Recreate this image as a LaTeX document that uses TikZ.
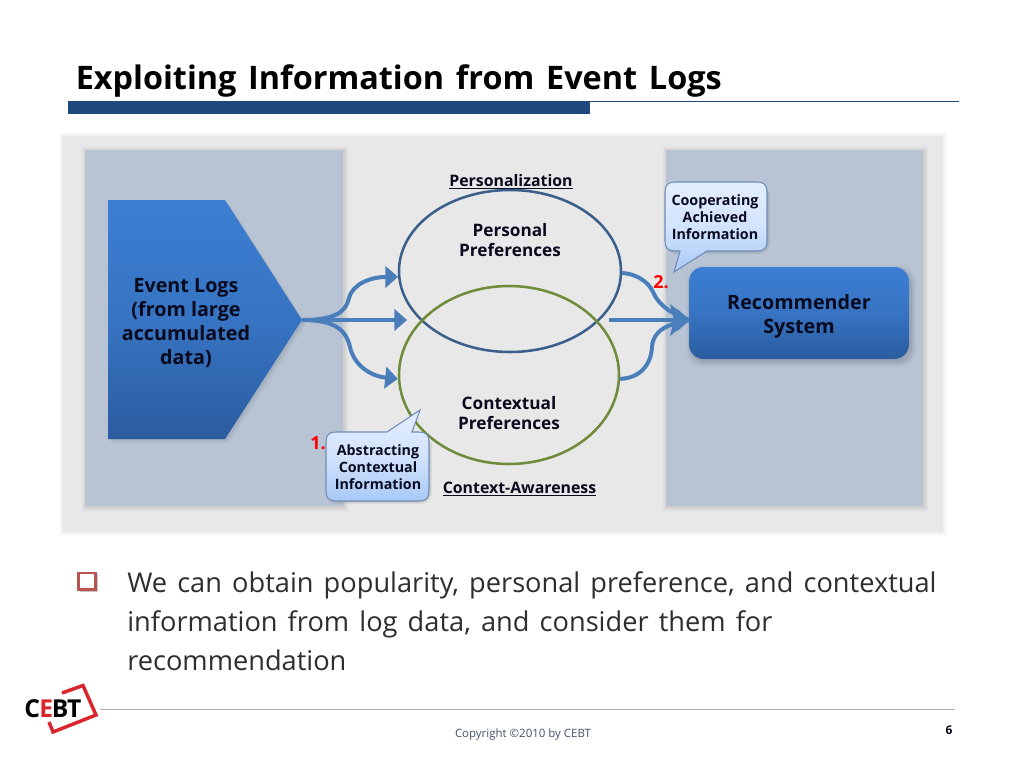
\documentclass[tikz,border=0pt]{standalone}
\usepackage{fontspec}
\setmainfont{Open Sans}
\usetikzlibrary{shapes.geometric,arrows.meta}
\definecolor{navy}{HTML}{1F497D}
\definecolor{panel}{HTML}{E8E8E8}
\definecolor{col}{HTML}{B8C4D4}
\definecolor{flow}{HTML}{4A7EBB}
\definecolor{blueT}{HTML}{3C7ED2}
\definecolor{blueB}{HTML}{2B5C9F}
\definecolor{ink}{HTML}{0A0A1E}
\definecolor{ringB}{HTML}{3A5F8A}
\definecolor{ringG}{HTML}{6F8C3C}
\definecolor{cTop}{HTML}{E4EEFF}
\definecolor{cBot}{HTML}{A9C9F7}
\definecolor{cEdge}{HTML}{6F8DB5}
\definecolor{foot}{HTML}{44546A}
\definecolor{logoR}{HTML}{D8262C}
\definecolor{bul}{HTML}{B9534F}
\newcommand{\titlefont}{\bfseries\fontsize{24.3pt}{28pt}\selectfont\spaceskip=8.8pt\relax}
\newcommand{\bodyfont}{\fontsize{20.4pt}{29.25pt}\selectfont\spaceskip=7.6pt\relax}
\tikzset{
  x=0.75pt,y=-0.75pt,
  flowline/.style={draw=flow,line width=3pt,-{Triangle[length=9.5pt,width=16pt]}},
  flowplain/.style={draw=flow,line width=3pt},
  ring/.style={ellipse,draw,line width=1.9pt,inner sep=0pt},
  lbl/.style={font=\bfseries\fontsize{12.9pt}{15pt}\selectfont,text=ink,align=center,inner sep=0pt},
  lblwide/.style={font=\bfseries\fontsize{14.8pt}{18pt}\selectfont,text=ink,align=center,inner sep=0pt},
  clbl/.style={font=\bfseries\fontsize{10.7pt}{12.9pt}\selectfont,text=ink,align=center,inner sep=0pt},
  ulbl/.style={font=\bfseries\fontsize{11.9pt}{13pt}\selectfont,text=ink,inner sep=0pt},
  num/.style={font=\bfseries\fontsize{13.5pt}{15pt}\selectfont,text=red,inner sep=0pt},
  body/.style={font=\bodyfont,text=black!82,anchor=base west,inner sep=0pt},
  callout/.style={top color=cTop,bottom color=cBot,middle color=cTop!70!cBot,draw=cEdge,line width=0.8pt},
}
\begin{document}
\begin{tikzpicture}
\useasboundingbox (0,0) rectangle (1024,768);
\fill[white] (0,0) rectangle (1024,768);
% title
\node[anchor=base west,inner sep=0pt,font=\titlefont,text=black] (title) at (75.5,89) {Exploiting Information from Event Logs};
\fill[navy] (68,101) rectangle (590,114);
\draw[navy,line width=0.8pt] (68,101.5) -- (959,101.5);
% panel
\foreach \d/\o in {5/0.012,4/0.014,3/0.016,2/0.02,1/0.025}{
  \fill[black,opacity=\o] (64-\d,137-\d) rectangle (942+\d,531+\d);
}
\fill[panel] (64,137) rectangle (942,531);
\foreach \d/\o in {5/0.012,4/0.014,3/0.018,2/0.024,1/0.03}{
  \fill[black,opacity=\o] (85-\d+1,150-\d+1) rectangle (343+\d+1,506+\d+1);
  \fill[black,opacity=\o] (666-\d+1,150-\d+1) rectangle (923+\d+1,506+\d+1);
}
\fill[col] (85,150) rectangle (343,506);
\fill[col] (666,150) rectangle (923,506);
% event logs
\foreach \d/\o in {4/0.04,2/0.06}{
  \fill[black,opacity=\o] (108+\d,200+\d) -- (225+\d,200+\d) -- (302+\d,320+\d) -- (225+\d,439+\d) -- (108+\d,439+\d) -- cycle;
}
\shade[top color=blueT,bottom color=blueB,middle color=blueT!70!blueB] (108,200) -- (225,200) -- (302,320) -- (225,439) -- (108,439) -- cycle;
\coordinate (src) at (302,320);
\node[lblwide] (logs) at (186,323) {Event Logs\\(from large\\accumulated\\data)};
% rings
\node[ring,draw=ringB,minimum width=166.5pt,minimum height=121.5pt] (e1) at (510,271) {};
\node[ring,draw=ringG,minimum width=165pt,minimum height=133.5pt] (e2) at (509,375) {};
\node[lbl] (pp) at (510,240) {Personal\\Preferences};
\node[lbl] (cp) at (509,413) {Contextual\\Preferences};
\node[ulbl,anchor=base] (pers) at (511,186) {\underline{Personalization}};
\node[ulbl,anchor=base] (ctx) at (519.5,493) {\underline{Context-Awareness}};
% recommender
\foreach \d/\o in {5/0.03,3/0.05,1/0.07}{
  \fill[black,opacity=\o,rounded corners=12pt] (689-\d+2,267-\d+3) rectangle (909+\d+2,359+\d+3);
}
\node[rectangle,rounded corners=11pt,top color=blueT,bottom color=blueB,middle color=blueT!70!blueB,minimum width=165pt,minimum height=69pt,inner sep=0pt] (rec) at (799,313) {};
\node[lblwide] (recl) at (799,316) {Recommender\\System};
\coordinate (recin) at (690,320);
% left arrows
\coordinate (mid) at (407,320);
\draw[flowline] (src) .. controls (335,320) and (346,312) .. (349,298) .. controls (353,283) and (372,277) .. (e1.183);
\draw[flowline] (src) -- (mid);
\draw[flowline] (src) .. controls (335,320) and (346,330) .. (350,347) .. controls (354,365) and (370,376) .. (e2.182);
% right arrows
\coordinate (rmid) at (609,320);
\draw[flowplain] (e1.-1) .. controls (636,274) and (648,281) .. (653,292) .. controls (659,306) and (672,314) .. (recin);
\draw[flowplain] (e2.-2) .. controls (640,378) and (651,365) .. (652,347) .. controls (653,330) and (668,324) .. (recin);
\draw[flowline] (rmid) -- (recin);
\fill[flow] (670,304) -- (recin) -- (670,336) -- (674,320) -- cycle;
% labels 1 2
\node[num] (n1) at (318,443) {1.};
\node[num] (n2) at (661,282) {2.};
% callouts
\foreach \d/\o in {3/0.06,1.5/0.08}{
  \fill[black,opacity=\o,rounded corners=8pt] (326,432+\d) rectangle (429+\d,501+\d);
  \fill[black,opacity=\o,rounded corners=8pt] (665,182+\d) rectangle (767+\d,251+\d);
}
\shade[callout] (336,432) -- (387,432) -- (420,410) -- (412,432) -- (419,432) .. controls (426,432) and (429,435) .. (429,442) -- (429,491) .. controls (429,498) and (426,501) .. (419,501) -- (336,501) .. controls (329,501) and (326,498) .. (326,491) -- (326,442) .. controls (326,435) and (329,432) .. (336,432) -- cycle;
\node[clbl] (c1) at (378,467) {Abstracting\\Contextual\\Information};
\shade[callout] (675,182) -- (757,182) .. controls (764,182) and (767,185) .. (767,192) -- (767,241) .. controls (767,248) and (764,251) .. (757,251) -- (707,251) -- (674,272) -- (680,251) -- (675,251) .. controls (668,251) and (665,248) .. (665,241) -- (665,192) .. controls (665,185) and (668,182) .. (675,182) -- cycle;
\node[clbl] (c2) at (715,217) {Cooperating\\Achieved\\Information};
% body text
\fill[black!22] (80,574) rectangle (98,592);
\fill[white] (78,572) rectangle (96,590);
\draw[draw=bul,line width=1.7pt] (78.5,573) rectangle (95.5,589.5);
\node[body] (b1) at (127,592) {We can obtain popularity, personal preference, and contextual};
\node[body] (b2) at (127,631) {information from log data, and consider them for};
\node[body] (b3) at (127,670) {recommendation};
% footer
\draw[black!30,line width=0.6pt] (100,709) -- (955,709);
\node[inner sep=0pt,font=\fontsize{8.6pt}{10pt}\selectfont,text=foot] (copy) at (523,734.5) {Copyright \copyright 2010 by CEBT};
\node[inner sep=0pt,font=\bfseries\fontsize{9pt}{10pt}\selectfont,text=ink] (page) at (949,730) {6};
% logo
\draw[logoR,line width=2.6pt,line join=miter] (62,693) -- (83,685.5) -- (96,715) -- (53,732) -- (49,722);
\node[inner sep=0pt,anchor=base west,font=\bfseries\fontsize{18.5pt}{20pt}\selectfont,text=black] (logo) at (24,717) {C\kern-0.5pt\textcolor{logoR}{E}\kern-1pt B\kern-1pt T};
\end{tikzpicture}
\end{document}
